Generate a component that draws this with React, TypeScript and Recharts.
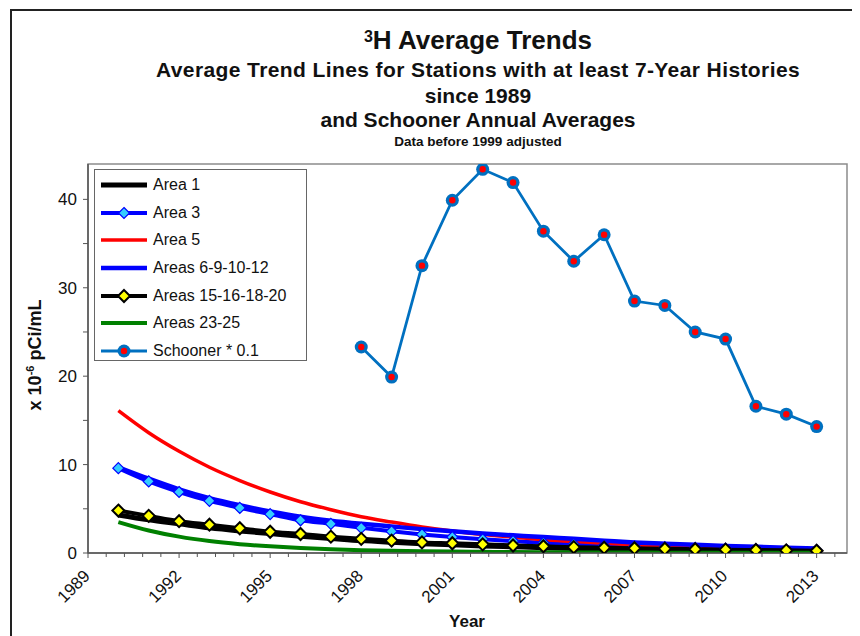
import React from "react";
import { LineChart, Line, XAxis, YAxis, ReferenceArea, Legend } from "recharts";

const FONT = "'Liberation Sans', Arial, sans-serif";

// trend years and values (x 10^-6 pCi/mL)
const years = [
  1990, 1991, 1992, 1993, 1994, 1995, 1996, 1997, 1998, 1999, 2000, 2001,
  2002, 2003, 2004, 2005, 2006, 2007, 2008, 2009, 2010, 2011, 2012, 2013,
];
const area1 = [4.3, 3.75, 3.3, 2.85, 2.5, 2.2, 1.9, 1.65, 1.4, 1.22, 1.06, 0.92, 0.8, 0.7, 0.6, 0.52, 0.45, 0.39, 0.34, 0.3, 0.26, 0.22, 0.19, 0.17];
const area3 = [9.6, 8.1, 6.9, 5.9, 5.1, 4.4, 3.7, 3.3, 2.85, 2.45, 2.1, 1.8, 1.55, 1.35, 1.15, 1.0, 0.87, 0.76, 0.66, 0.57, 0.5, 0.43, 0.37, 0.32];
const area5 = [16.1, 13.6, 11.5, 9.7, 8.2, 6.9, 5.8, 4.9, 4.1, 3.5, 2.95, 2.5, 2.1, 1.8, 1.5, 1.3, 1.1, 0.93, 0.8, 0.68, 0.58, 0.5, 0.43, 0.37];
const areas6_9_10_12 = [9.7, 8.4, 7.2, 6.2, 5.4, 4.7, 4.1, 3.65, 3.3, 3.0, 2.7, 2.45, 2.2, 2.0, 1.8, 1.6, 1.4, 1.2, 1.05, 0.92, 0.8, 0.7, 0.6, 0.5];
const areas15_16_18_20 = [4.8, 4.2, 3.6, 3.2, 2.8, 2.4, 2.15, 1.85, 1.6, 1.4, 1.2, 1.1, 0.98, 0.85, 0.76, 0.66, 0.6, 0.54, 0.48, 0.43, 0.38, 0.34, 0.3, 0.26];
const areas23_25 = [3.5, 2.55, 1.85, 1.35, 1.0, 0.75, 0.56, 0.42, 0.32, 0.25, 0.2, 0.16, 0.13, 0.1, 0.08, 0.07, 0.06, 0.05, 0.04, 0.04, 0.03, 0.03, 0.02, 0.02];

// Schooner annual averages * 0.1
const schoonerYears = [1998, 1999, 2000, 2001, 2002, 2003, 2004, 2005, 2006, 2007, 2008, 2009, 2010, 2011, 2012, 2013];
const schooner = [23.3, 19.9, 32.5, 39.9, 43.4, 41.9, 36.4, 33.0, 36.0, 28.5, 28.0, 25.0, 24.2, 16.6, 15.7, 14.3];

const xMajorTicks = [1989, 1992, 1995, 1998, 2001, 2004, 2007, 2010, 2013];
const yTicks = [0, 5, 10, 15, 20, 25, 30, 35, 40];
const xTicks = Array.from({ length: 42 }, (_, i) => 1989 + i * 0.6);

const data = years.map((year, i) => {
  const s = schoonerYears.indexOf(year);
  return {
    year,
    area1: area1[i],
    area3: area3[i],
    area5: area5[i],
    a6: areas6_9_10_12[i],
    a15: areas15_16_18_20[i],
    a23: areas23_25[i],
    schooner: s >= 0 ? schooner[s] : null,
  };
});

type Marker = "none" | "cyan" | "yellow" | "circle";
const series: { key: string; name: string; color: string; width: number; marker: Marker }[] = [
  { key: "area1", name: "Area 1", color: "#000000", width: 5, marker: "none" },
  { key: "area3", name: "Area 3", color: "#0000FF", width: 4, marker: "cyan" },
  { key: "area5", name: "Area 5", color: "#FF0000", width: 3.5, marker: "none" },
  { key: "a6", name: "Areas 6-9-10-12", color: "#0000FF", width: 4.5, marker: "none" },
  { key: "a15", name: "Areas 15-16-18-20", color: "#000000", width: 4, marker: "yellow" },
  { key: "a23", name: "Areas 23-25", color: "#008000", width: 4, marker: "none" },
  { key: "schooner", name: "Schooner * 0.1", color: "#0070C0", width: 2.8, marker: "circle" },
];

function drawMarker(marker: Marker, cx: number, cy: number, key?: string) {
  if (marker === "cyan") {
    const r = 5.5;
    return (
      <polygon key={key} points={`${cx},${cy - r} ${cx + r},${cy} ${cx},${cy + r} ${cx - r},${cy}`}
        fill="#33CCFF" stroke="#0000FF" strokeWidth={1.2} />
    );
  }
  if (marker === "yellow") {
    const r = 6;
    return (
      <polygon key={key} points={`${cx},${cy - r} ${cx + r},${cy} ${cx},${cy + r} ${cx - r},${cy}`}
        fill="#FFFF00" stroke="#000000" strokeWidth={2} />
    );
  }
  if (marker === "circle") {
    return (
      <g key={key}>
        <circle cx={cx} cy={cy} r={6.5} fill="#0070C0" />
        <circle cx={cx} cy={cy} r={3.2} fill="#FF0000" />
      </g>
    );
  }
  return <g key={key} />;
}

function makeDot(marker: Marker) {
  return (props: any) => {
    const { cx, cy, value, index } = props;
    if (value == null || cx == null || cy == null) return <g key={`e-${index}`} />;
    return drawMarker(marker, cx, cy, `d-${index}`);
  };
}

function XTick(props: any) {
  const { x, y, payload } = props;
  const v = payload.value;
  const major = xMajorTicks.some((t) => Math.abs(t - v) < 1e-6);
  return (
    <g>
      <line x1={x} x2={x} y1={y} y2={y + (major ? 5 : 4)} stroke="#555" strokeWidth={1} />
      {major && (
        <text x={x + 3} y={y + 24} transform={`rotate(-45, ${x + 3}, ${y + 24})`} textAnchor="end"
          fontSize={17} fontFamily={FONT} fill="#111">
          {Math.round(v)}
        </text>
      )}
    </g>
  );
}

function YTick(props: any) {
  const { x, y, payload } = props;
  const major = payload.value % 10 === 0;
  return (
    <g>
      <line x1={x - 5} x2={x} y1={y} y2={y} stroke="#555" strokeWidth={1} />
      {major && (
        <text x={x - 11} y={y} dy="0.35em" textAnchor="end" fontSize={17} fontFamily={FONT} fill="#111">
          {payload.value}
        </text>
      )}
    </g>
  );
}

function LegendBox() {
  return (
    <div style={{ width: 213, height: 192, border: "1px solid #666", background: "#fff", boxSizing: "border-box", paddingTop: 1 }}>
      {series.map((s) => (
        <div key={s.key} style={{ display: "flex", alignItems: "center", height: 27.7, fontFamily: FONT, fontSize: 16, color: "#111" }}>
          <svg width={58} height={20} style={{ flex: "none" }}>
            <line x1={6} x2={52} y1={10} y2={10} stroke={s.color} strokeWidth={s.width} />
            {drawMarker(s.marker, 29, 10)}
          </svg>
          <span style={{ whiteSpace: "nowrap" }}>{s.name}</span>
        </div>
      ))}
    </div>
  );
}

export default function App() {
  const line = (top: number, size: number): React.CSSProperties => ({
    position: "absolute", left: 0, width: 940, top, fontSize: size, lineHeight: `${size}px`,
  });
  return (
    <div style={{ position: "relative", width: 852, height: 628, overflow: "hidden", background: "#fff" }}>
      <div style={{ position: "absolute", left: 2, top: 1, width: 900, height: 700, borderLeft: "2px solid #222", borderTop: "2px solid #222" }} />
      <div style={{ position: "absolute", left: 0, width: 940, top: 0, fontFamily: FONT, fontWeight: "bold", color: "#111", textAlign: "center" }}>
        <div style={line(19, 26)}>
          <span style={{ fontSize: 16, verticalAlign: "top", position: "relative", top: -3 }}>3</span>H Average Trends
        </div>
        <div style={{ ...line(51, 21), letterSpacing: 0.4 }}>
          Average Trend Lines for Stations with at least 7-Year Histories
        </div>
        <div style={line(77, 21)}>since 1989</div>
        <div style={line(101, 21)}>and Schooner Annual Averages</div>
        <div style={line(127, 13.5)}>Data before 1999 adjusted</div>
      </div>
      <div style={{ position: "absolute", left: 27, top: 347, transform: "translate(-50%, -50%) rotate(-90deg)", whiteSpace: "nowrap", fontFamily: FONT, fontWeight: "bold", fontSize: 18, color: "#111" }}>
        x 10<sup style={{ fontSize: 11 }}>-6</sup> pCi/mL
      </div>
      <div style={{ position: "absolute", left: 459, top: 614, transform: "translate(-50%, -50%)", fontFamily: FONT, fontWeight: "bold", fontSize: 17, color: "#111" }}>
        Year
      </div>
      <div style={{ position: "absolute", left: 0, top: 0 }}>
        <LineChart width={852} height={628} data={data} margin={{ top: 156, right: 13, left: 20, bottom: 23 }}>
          <XAxis dataKey="year" type="number" domain={[1989, 2014]} ticks={xTicks} interval={0}
            tick={<XTick />} tickLine={false} tickSize={0} tickMargin={0} height={60}
            axisLine={{ stroke: "#555", strokeWidth: 1.5 }} allowDataOverflow />
          <YAxis type="number" domain={[0, 44]} ticks={yTicks} interval={0} tick={<YTick />}
            tickLine={false} tickSize={0} tickMargin={0} width={60}
            axisLine={{ stroke: "#555", strokeWidth: 1.5 }} allowDataOverflow />
          <ReferenceArea x1={1989} x2={2014} y1={0} y2={44} fill="none" stroke="#8c8c8c" strokeWidth={1.5} />
          <Legend layout="vertical" align="center" verticalAlign="middle" content={() => <LegendBox />}
            wrapperStyle={{ left: 86, top: 161, width: 213, height: 192 }} />
          {series.map((s) => (
            <Line key={s.key} dataKey={s.key} name={s.name} type={s.key === "schooner" ? "linear" : "monotone"}
              stroke={s.color} strokeWidth={s.width} dot={s.marker === "none" ? false : makeDot(s.marker)}
              activeDot={false} isAnimationActive={false} connectNulls={false} />
          ))}
        </LineChart>
      </div>
    </div>
  );
}
